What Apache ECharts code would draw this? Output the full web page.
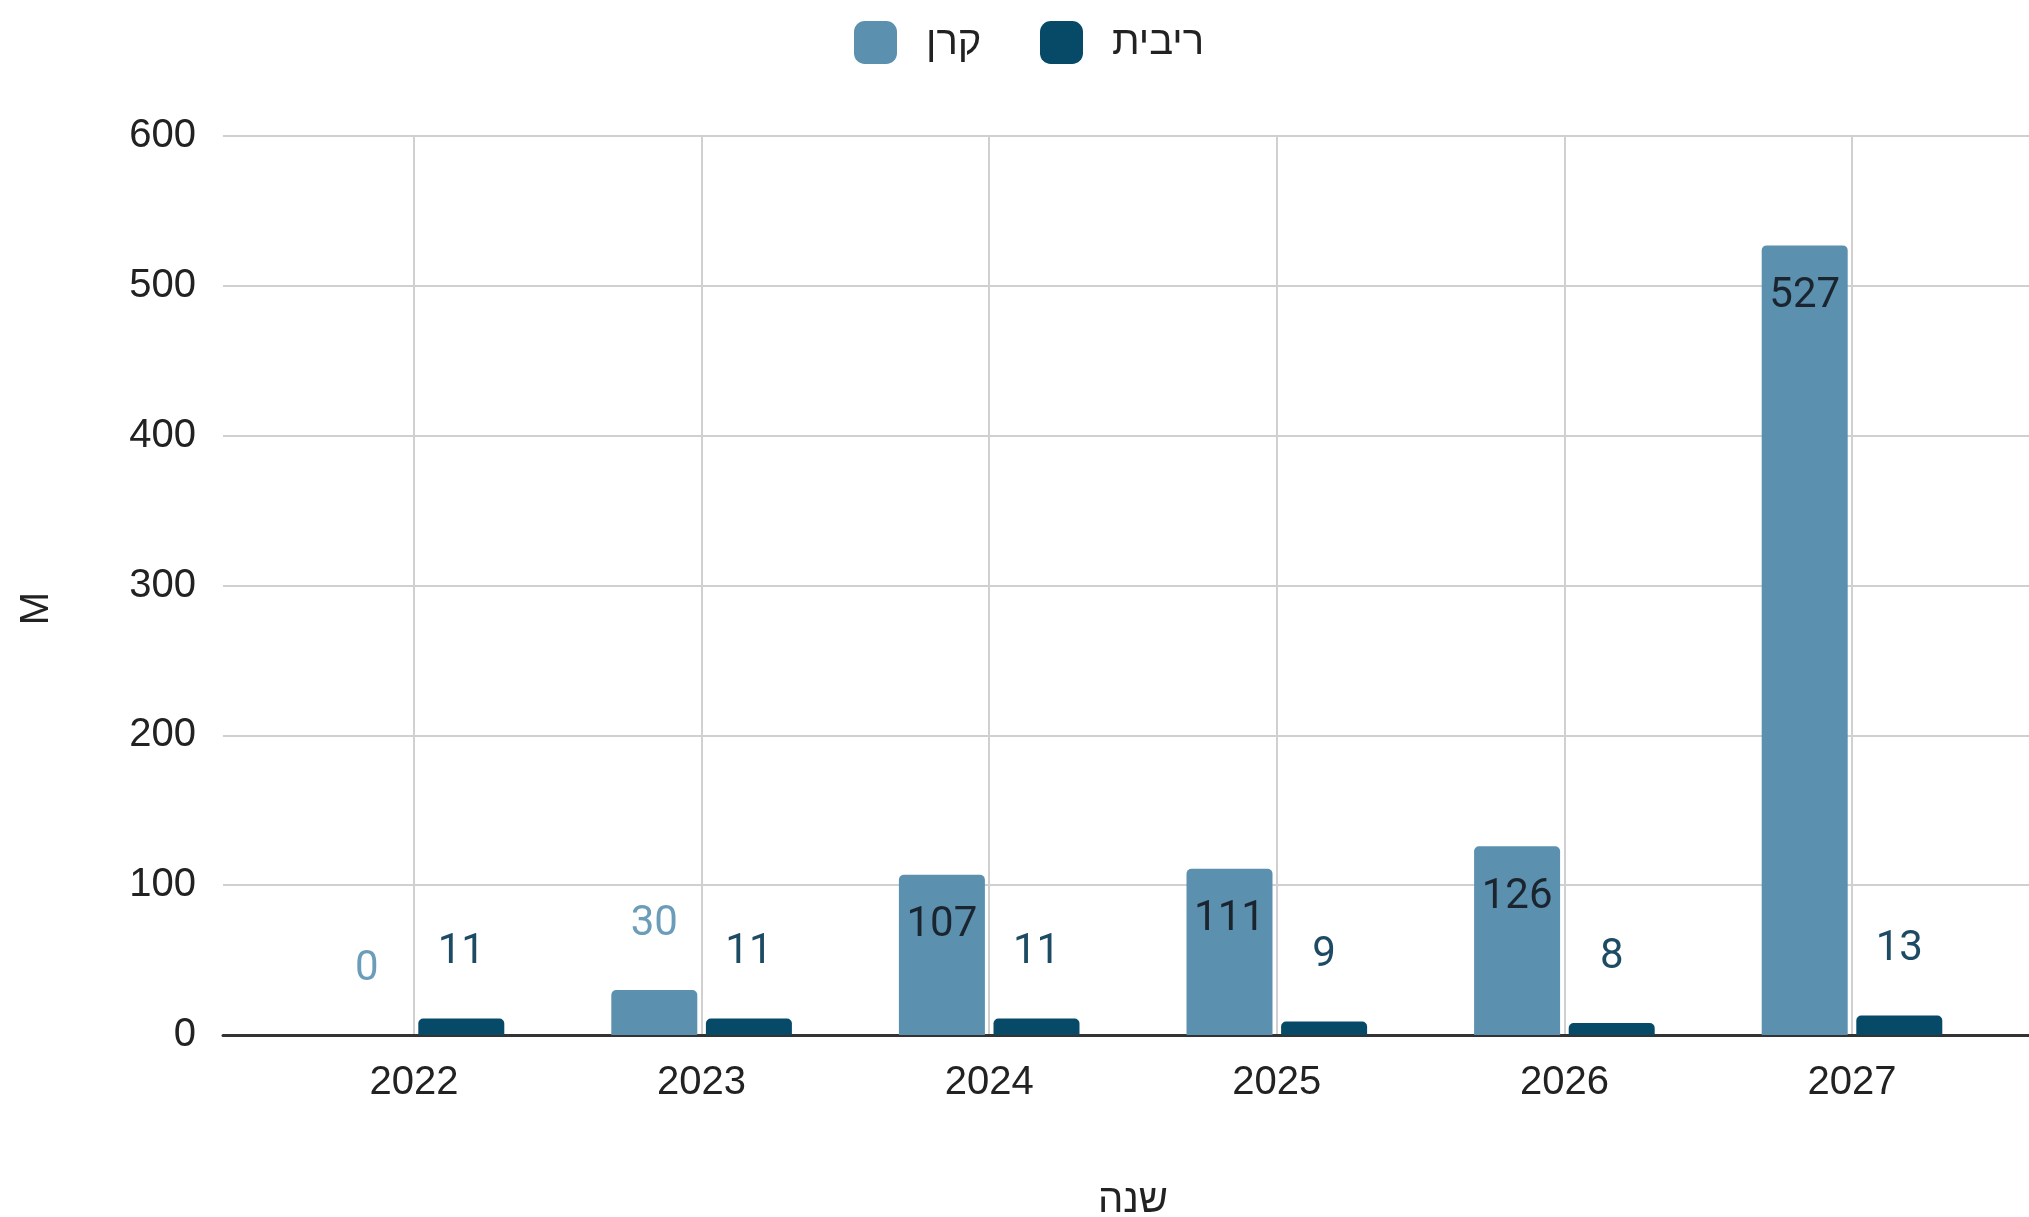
<!DOCTYPE html>
<html>
<head>
<meta charset="utf-8">
<script src="https://cdn.jsdelivr.net/npm/echarts@6/dist/echarts.min.js"></script>
<style>
  html, body { margin: 0; padding: 0; background: #fff; }
  #chart { width: 2029px; height: 1217px; }
</style>
</head>
<body>
<div id="chart"></div>
<script>
const years = ["2022", "2023", "2024", "2025", "2026", "2027"];
const principal = [0, 30, 107, 111, 126, 527];
const interest = [11, 11, 11, 9, 8, 13];
const principalName = "קרן";
const interestName = "ריבית";

const LIGHT = "#5b91af";
const DARK = "#064a68";
const AXIS_FONT = "Liberation Sans";
const LABEL_FONT = "Roboto";

const chart = echarts.init(document.getElementById("chart"));

// big bars get the value inside at the top, small ones above the bar
const principalData = principal.map((v) => ({
  value: v,
  label: v >= 100
    ? { position: "insideTop", distance: 30, color: "#1b2530" }
    : { position: "top", distance: 45, color: "#6b9dba" },
}));

const option = {
  animation: false,
  legend: [
    {
      data: [principalName],
      left: 854, top: 21, padding: 0,
      itemWidth: 43, itemHeight: 43, icon: "roundRect",
      textStyle: { fontFamily: AXIS_FONT, fontSize: 40, color: "#222", padding: [0, 0, 0, 24] },
    },
    {
      data: [interestName],
      left: 1040, top: 21, padding: 0,
      itemWidth: 43, itemHeight: 43, icon: "roundRect",
      textStyle: { fontFamily: AXIS_FONT, fontSize: 40, color: "#222", padding: [0, 0, 0, 24] },
    },
  ],
  // two grids: one for the full-width horizontal lines, one for the bars
  grid: [
    { left: 223, right: 0, top: 136, bottom: 182, outerBoundsMode: "none" },
    { left: 414, right: 177, top: 136, bottom: 182, outerBoundsMode: "none" },
  ],
  xAxis: [
    {
      gridIndex: 0, type: "value", min: 0, max: 1,
      axisLine: { show: true, lineStyle: { color: "#333", width: 3 } },
      axisTick: { show: false }, axisLabel: { show: false }, splitLine: { show: false },
    },
    {
      gridIndex: 1, type: "category", data: years, boundaryGap: false,
      axisLine: { show: false }, axisTick: { show: false },
      axisLabel: { fontFamily: AXIS_FONT, fontSize: 40, color: "#222", margin: 28 },
      splitLine: { show: true, interval: 0, lineStyle: { color: "#d0d0d0", width: 2 } },
      name: "שנה", nameLocation: "middle", nameGap: 146,
      nameTextStyle: { fontFamily: AXIS_FONT, fontSize: 40, color: "#222" },
    },
  ],
  yAxis: [
    {
      gridIndex: 0, type: "value", min: 0, max: 600, interval: 100,
      axisLine: { show: false }, axisTick: { show: false },
      axisLabel: { fontFamily: AXIS_FONT, fontSize: 40, color: "#222", margin: 27, padding: [4, 0, 0, 0] },
      splitLine: { lineStyle: { color: "#d0d0d0", width: 2 } },
      name: "M", nameLocation: "middle", nameGap: 166,
      nameTextStyle: { fontFamily: AXIS_FONT, fontSize: 40, color: "#222", padding: [0, 46, 0, 0] },
    },
    { gridIndex: 1, type: "value", min: 0, max: 600, show: false },
  ],
  series: [
    {
      name: principalName, type: "bar", xAxisIndex: 1, yAxisIndex: 1,
      data: principalData, barWidth: 86, barGap: "10%", clip: false,
      itemStyle: { color: LIGHT, borderRadius: [5, 5, 0, 0] },
      label: { show: true, fontFamily: LABEL_FONT, fontSize: 42 },
    },
    {
      name: interestName, type: "bar", xAxisIndex: 1, yAxisIndex: 1,
      data: interest, barWidth: 86, clip: false,
      itemStyle: { color: DARK, borderRadius: [5, 5, 0, 0] },
      label: { show: true, position: "top", distance: 45, fontFamily: LABEL_FONT, fontSize: 42, color: "#1e4b64" },
    },
  ],
};

chart.setOption(option);
</script>
</body>
</html>
